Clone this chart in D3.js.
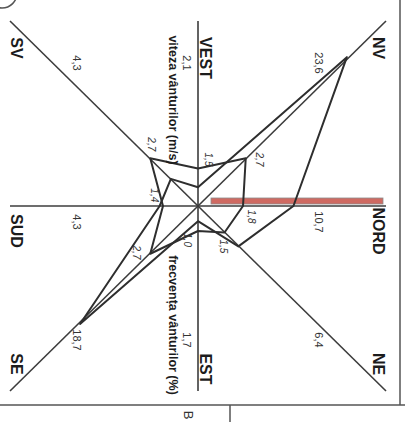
<!DOCTYPE html>
<html>
<head>
<meta charset="utf-8">
<script src="https://cdn.jsdelivr.net/npm/d3@7"></script>
<style>
	body { margin: 0; background: #fff; }
	svg { display: block; font-family: 'Liberation Sans', Arial, sans-serif; }
</style>
</head>
<body>
<div class="chart"></div>
<script>
const WIDTH = 405
const HEIGHT = 422
const CX = 198
const CY = 206
const HALF_X = 188
const HALF_Y = 185
const INK = '#2e2e2e'

// directions clockwise, starting with north (drawn to the right)
const DIRECTIONS = ['NORD', 'NE', 'EST', 'SE', 'SUD', 'SV', 'VEST', 'NV']
const FREQUENCY = [10.7, 6.4, 1.7, 18.7, 4.3, 4.3, 2.1, 23.6]
const SPEED = [1.8, 1.5, 1.0, 2.7, 1.4, 2.7, 1.5, 2.7]
const TITLES = ['viteza vânturilor (m/s)', 'frecvența vânturilor (%)']
const PAGE_MARK = 'B'

const fmt = v => v.toFixed(1).replace('.', ',')

const scaleAngle = d3.scaleLinear()
	.domain([0, DIRECTIONS.length])
	.range([Math.PI / 2, Math.PI / 2 + 2 * Math.PI])

const scaleFreq = d3.scaleLinear().domain([0, 25]).range([0, 223])
const scaleSpeed = d3.scaleLinear().domain([0, 3]).range([0, 75])

// unit step of an axis toward the frame: -1, 0 or 1 on each side
function unit(i) {
	const a = scaleAngle(i)
	return [Math.round(Math.sin(a)), Math.round(-Math.cos(a))]
}

function polar(a, r) {
	return [r * Math.sin(a), -r * Math.cos(a)]
}

function translate(x, y) {
	return `translate(${x}, ${y})`
}

function rotated(sel, x, y) {
	return sel
		.attr('transform', `${translate(x, y)} rotate(90)`)
		.attr('text-anchor', 'middle')
		.attr('dy', '0.35em')
}

const svg = d3.select('.chart').append('svg')
	.attr('width', WIDTH)
	.attr('height', HEIGHT)

// sheet frame from the scan
const frame = svg.append('g').attr('stroke', '#555').attr('stroke-width', 1.5).attr('fill', 'none')
frame.append('line').attr('x1', 400).attr('y1', 0).attr('x2', 400).attr('y2', 405)
frame.append('line').attr('x1', 0).attr('y1', 405).attr('x2', WIDTH).attr('y2', 405)
frame.append('line').attr('x1', 230).attr('y1', 405).attr('x2', 230).attr('y2', HEIGHT)
frame.append('circle').attr('cx', 2).attr('cy', -7).attr('r', 15)

rotated(svg.append('text'), 189, 415)
	.attr('font-size', 13)
	.attr('fill', '#333')
	.text(PAGE_MARK)

const g = svg.append('g').attr('transform', translate(CX, CY))

// axes
g.append('g').attr('class', 'axes')
	.selectAll('line')
	.data(DIRECTIONS)
	.join('line')
	.attr('x1', 0)
	.attr('y1', 0)
	.attr('x2', (d, i) => unit(i)[0] * HALF_X)
	.attr('y2', (d, i) => unit(i)[1] * HALF_Y)
	.attr('stroke', '#3c3c3c')
	.attr('stroke-width', 1.6)

// red marker along the north axis
g.append('rect')
	.attr('x', 13)
	.attr('y', -8)
	.attr('width', HALF_X - 16)
	.attr('height', 6)
	.attr('fill', '#cf6a62')
	.attr('stroke', '#8c8c8c')
	.attr('stroke-width', 0.8)

const radial = scale => d3.lineRadial()
	.angle((d, i) => scaleAngle(i))
	.radius(d => scale(d))
	.curve(d3.curveLinearClosed)

g.append('path')
	.attr('class', 'freq')
	.attr('d', radial(scaleFreq)(FREQUENCY))
	.attr('fill', 'none')
	.attr('stroke', INK)
	.attr('stroke-width', 2)
	.attr('stroke-linejoin', 'round')

g.append('path')
	.attr('class', 'speed')
	.attr('d', radial(scaleSpeed)(SPEED))
	.attr('fill', 'none')
	.attr('stroke', INK)
	.attr('stroke-width', 2)
	.attr('stroke-linejoin', 'round')

// direction names
g.append('g').selectAll('text')
	.data(DIRECTIONS)
	.join('text')
	.each(function(d, i) {
		const [ux, uy] = unit(i)
		const x = ux === 0 ? 8 : ux * 181
		const y = ux === 0 ? (uy < 0 ? -148 : 163) : uy * 158 + (uy === 0 ? 25 : 0)
		rotated(d3.select(this), x, y)
	})
	.attr('font-size', 16)
	.attr('font-weight', 'bold')
	.attr('fill', '#1c1c1c')
	.text(d => d)

// frequency values
g.append('g').selectAll('text')
	.data(FREQUENCY)
	.join('text')
	.each(function(d, i) {
		const [ux, uy] = unit(i)
		const x = ux === 0 ? -11 : ux * 121
		const y = uy === 0 ? 16 : uy * (uy < 0 ? 143 : 134)
		rotated(d3.select(this), x, y)
	})
	.attr('font-size', 11)
	.attr('fill', '#333')
	.text(fmt)

// speed values, set a little aside of each vertex
g.append('g').selectAll('text')
	.data(SPEED)
	.join('text')
	.each(function(d, i) {
		const a = scaleAngle(i)
		const [vx, vy] = polar(a, scaleSpeed(d))
		const [ox, oy] = polar(a + Math.PI * 50 / 180, 14)
		rotated(d3.select(this), vx + ox, vy + oy)
	})
	.attr('font-size', 10)
	.attr('font-style', 'italic')
	.attr('fill', '#333')
	.text(fmt)

// titles
rotated(g.append('text'), -25, -106)
	.attr('font-size', 12.5)
	.attr('font-weight', 'bold')
	.attr('fill', '#1c1c1c')
	.text(TITLES[0])

rotated(g.append('text'), -25, 119)
	.attr('font-size', 12.5)
	.attr('font-weight', 'bold')
	.attr('fill', '#1c1c1c')
	.text(TITLES[1])
</script>
</body>
</html>
